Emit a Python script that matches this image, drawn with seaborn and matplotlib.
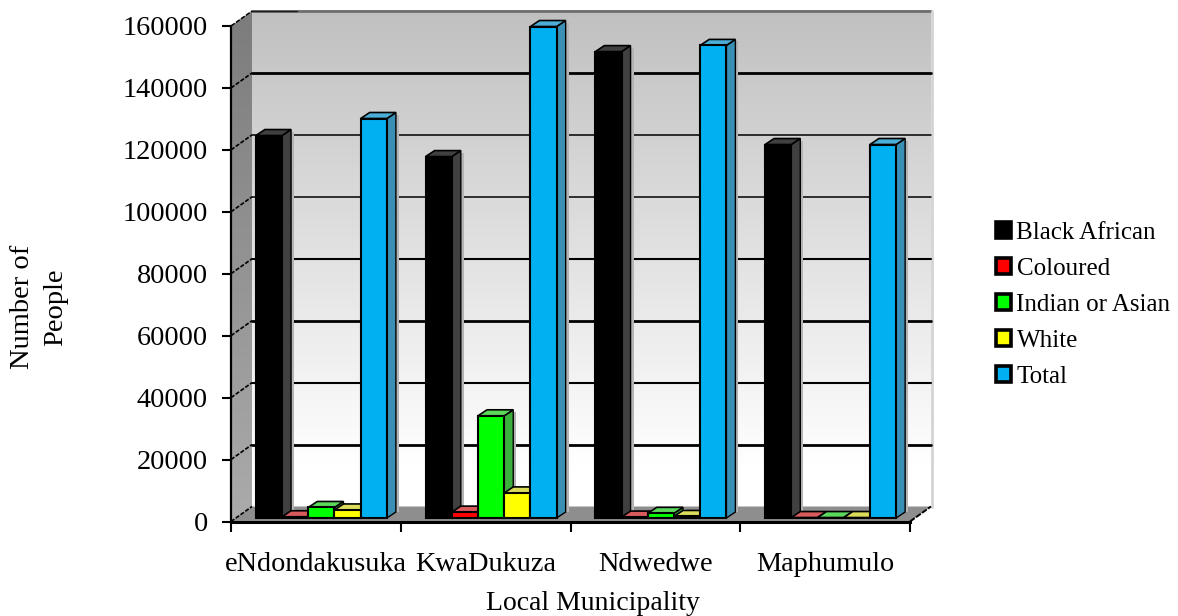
import numpy as np
import pandas as pd
import matplotlib
matplotlib.use("Agg")
import matplotlib.pyplot as plt
from matplotlib.patches import Polygon
from matplotlib.transforms import Affine2D
from matplotlib.colors import LinearSegmentedColormap
import seaborn as sns

municipalities = ["eNdondakusuka", "KwaDukuza", "Ndwedwe", "Maphumulo"]
black_african = [123500, 116700, 150600, 120600]
coloured = [400, 1900, 300, 150]
indian_or_asian = [3400, 33000, 1500, 150]
white = [2600, 8100, 500, 150]
total = [129000, 158700, 152600, 120600]

groups = ["Black African", "Coloured", "Indian or Asian", "White", "Total"]
front_colors = ["#000000", "#ff0000", "#00ff00", "#ffff00", "#00b0f0"]
top_colors = ["#404040", "#d85c5c", "#5cd85c", "#dcdc5c", "#4cadd6"]
side_colors = ["#404040", "#b04040", "#3cb03c", "#b0b040", "#3a8fb5"]
y_ticks = np.arange(0, 160001, 20000)
grid_widths = [0, 2.0, 1.5, 2.0, 1.5, 1.1, 1.1, 2.0, 0]

W, H = 1178, 616
LEFT, RIGHT, BASE, TOP = 231, 910, 521.5, 26
WALL_DX, WALL_DY = 21, 15
BAR_SHIFT = (5.5, 3.5)
BAR_DX, BAR_DY = 9, 6

df = pd.DataFrame({
    "municipality": np.tile(municipalities, len(groups)),
    "group": np.repeat(groups, len(municipalities)),
    "people": black_african + coloured + indian_or_asian + white + total,
})

sns.set_theme(style="white")
plt.rcParams["font.family"] = ["Liberation Serif", "DejaVu Serif"]
plt.rcParams["text.color"] = "black"

fig = plt.figure(figsize=(W / 100, H / 100), dpi=100, facecolor="white")

# Backdrop axes measured in pixels, holding the walls and floor of the box
bg = fig.add_axes([0, 0, 1, 1], zorder=0)
bg.set_xlim(0, W)
bg.set_ylim(H, 0)
bg.axis("off")

y_px = lambda v: BASE - (BASE - TOP) * v / 160000

wall_cmap = LinearSegmentedColormap.from_list(
    "wall", [(0, "#c0c0c0"), (0.92, "#ffffff"), (1, "#ffffff")], N=256)
wall_l, wall_r = LEFT + WALL_DX, RIGHT + WALL_DX
wall_t, wall_b = TOP - WALL_DY, BASE - WALL_DY
bg.imshow(np.linspace(0, 1, 256).reshape(-1, 1), cmap=wall_cmap, aspect="auto",
          extent=[wall_l, wall_r, wall_b, wall_t], zorder=1)
bg.set_xlim(0, W)
bg.set_ylim(H, 0)

side_cmap = LinearSegmentedColormap.from_list("side", ["#7c7c7c", "#ababab"])
side_img = bg.imshow(np.linspace(0, 1, 256).reshape(-1, 1), cmap=side_cmap, aspect="auto",
                     extent=[LEFT, wall_l, BASE, wall_t], zorder=1.1)
side_img.set_clip_path(Polygon([(LEFT, BASE), (LEFT, TOP), (wall_l, wall_t), (wall_l, wall_b)],
                               transform=bg.transData))
bg.set_xlim(0, W)
bg.set_ylim(H, 0)

bg.add_patch(Polygon([(LEFT, BASE), (wall_l, wall_b), (wall_r, wall_b), (RIGHT, BASE)],
                     closed=True, facecolor="#8e8e8e", edgecolor="none", zorder=1.2))
bg.plot([wall_l, wall_r], [wall_t, wall_t], color="#6e6e6e", lw=2, zorder=1.3)
bg.plot([wall_l, wall_l + 45], [wall_t, wall_t], color="#202020", lw=1, zorder=1.4)
bg.plot([wall_r + 1, wall_r + 1], [wall_t, wall_b], color="#d4d4d4", lw=2, zorder=1.3)
bg.plot([LEFT, wall_l], [TOP, wall_t], color="black", lw=1.1, ls=(0, (3, 1)), zorder=1.4)

for v, lw in zip(y_ticks, grid_widths):
    y = y_px(v)
    if 0 < v < y_ticks[-1]:
        bg.plot([wall_l, wall_r], [y - WALL_DY] * 2, color="black", lw=lw, zorder=1.5)
    if v < y_ticks[-1]:
        bg.plot([LEFT, wall_l], [y, y - WALL_DY], color="black", lw=1.2,
                ls=(0, (2.5, 1)), zorder=1.5)
bg.plot([RIGHT, wall_r], [BASE, wall_b], color="black", lw=1.4, ls=(0, (3, 0.8)), zorder=1.5)

# Front plane of the box, carrying the real scales and axis decorations
ax = fig.add_axes([LEFT / W, 1 - BASE / H, (RIGHT - LEFT) / W, (BASE - TOP) / H], zorder=1)
ax.patch.set_alpha(0)
sns.barplot(data=df, x="municipality", y="people", hue="group",
            order=municipalities, hue_order=groups,
            palette=dict(zip(groups, front_colors)),
            width=0.772, gap=0, edgecolor="black", linewidth=1.5,
            saturation=1, err_kws={"linewidth": 0}, ax=ax)
ax.set_xlim(-0.5, 3.5)
ax.set_ylim(0, 160000)
ax.set_yticks(y_ticks)
ax.set_yticklabels([str(v) for v in y_ticks], fontsize=20.3)
ax.set_xticks(range(len(municipalities)))
ax.set_xticklabels(municipalities, fontsize=20.3)
ax.set_xticks(np.arange(-0.5, 4), minor=True)
ax.tick_params(axis="x", which="major", length=0, pad=22, colors="black")
ax.tick_params(axis="x", which="minor", length=7, width=1.5, color="black", bottom=True)
ax.tick_params(axis="y", length=6.5, width=1.5, pad=10, color="black", left=True, labelcolor="black")
for name in ("top", "right"):
    ax.spines[name].set_visible(False)
ax.spines["left"].set_color("black")
ax.spines["left"].set_linewidth(1.6)
ax.spines["bottom"].set_color("black")
ax.spines["bottom"].set_linewidth(2.2)

ax.set_xlabel("Local Municipality", fontsize=20, va="center", color="black")
ax.xaxis.set_label_coords((593 - LEFT) / (RIGHT - LEFT), -(604 - BASE) / (BASE - TOP))
ax.set_ylabel("Number of\nPeople", fontsize=20.5, va="center", ha="center", color="black", linespacing=1.45)
ax.yaxis.set_label_coords((39 - LEFT) / (RIGHT - LEFT), (BASE - 307) / (BASE - TOP))

# Extrude each bar: shift its face into the box, then add top and side faces
to_px = ax.transData + bg.transData.inverted()
n_cat = len(municipalities)
for i, patch in enumerate(ax.patches[:n_cat * len(groups)]):
    g = i // n_cat
    x0, x1 = patch.get_x(), patch.get_x() + patch.get_width()
    height = patch.get_height()
    (l, b), (r, t) = to_px.transform([(x0, 0), (x1, height)])
    l, r = l + BAR_SHIFT[0], r + BAR_SHIFT[0]
    b, t = b - BAR_SHIFT[1], t - BAR_SHIFT[1]
    z = 3 + g
    patch.set_transform(ax.transData + Affine2D().translate(BAR_SHIFT[0], BAR_SHIFT[1]))
    patch.set_clip_on(False)
    patch.set_zorder(z + 0.5)
    top = [(l, t), (l + BAR_DX, t - BAR_DY), (r + BAR_DX, t - BAR_DY), (r, t)]
    side = [(r, t), (r + BAR_DX, t - BAR_DY), (r + BAR_DX, b - BAR_DY), (r, b)]
    shadow = [(r + BAR_DX, t - BAR_DY + 2), (r + BAR_DX + 3, t - BAR_DY + 2),
              (r + BAR_DX + 3, b - BAR_DY), (r + BAR_DX, b - BAR_DY)]
    ax.add_patch(Polygon(shadow, closed=True, facecolor="#b4b4b4", edgecolor="none",
                         transform=bg.transData, zorder=2, clip_on=False))
    ax.add_patch(Polygon(side, closed=True, facecolor=side_colors[g], edgecolor="black", lw=1.0,
                         transform=bg.transData, zorder=z, clip_on=False))
    ax.add_patch(Polygon(top, closed=True, facecolor=top_colors[g], edgecolor="black", lw=1.2,
                         transform=bg.transData, zorder=z + 0.2, clip_on=False))

sns.move_legend(ax, loc="center left", bbox_to_anchor=(996 / W, 1 - 305 / H),
                bbox_transform=fig.transFigure, title=None, frameon=False,
                fontsize=18, labelspacing=0.56, handlelength=0.6, handleheight=0.6,
                handletextpad=0.22, borderaxespad=0, borderpad=0)
for handle in ax.get_legend().legend_handles:
    handle.set_edgecolor("black")
    handle.set_linewidth(2.6)

fig.savefig("out.png", dpi=100)
